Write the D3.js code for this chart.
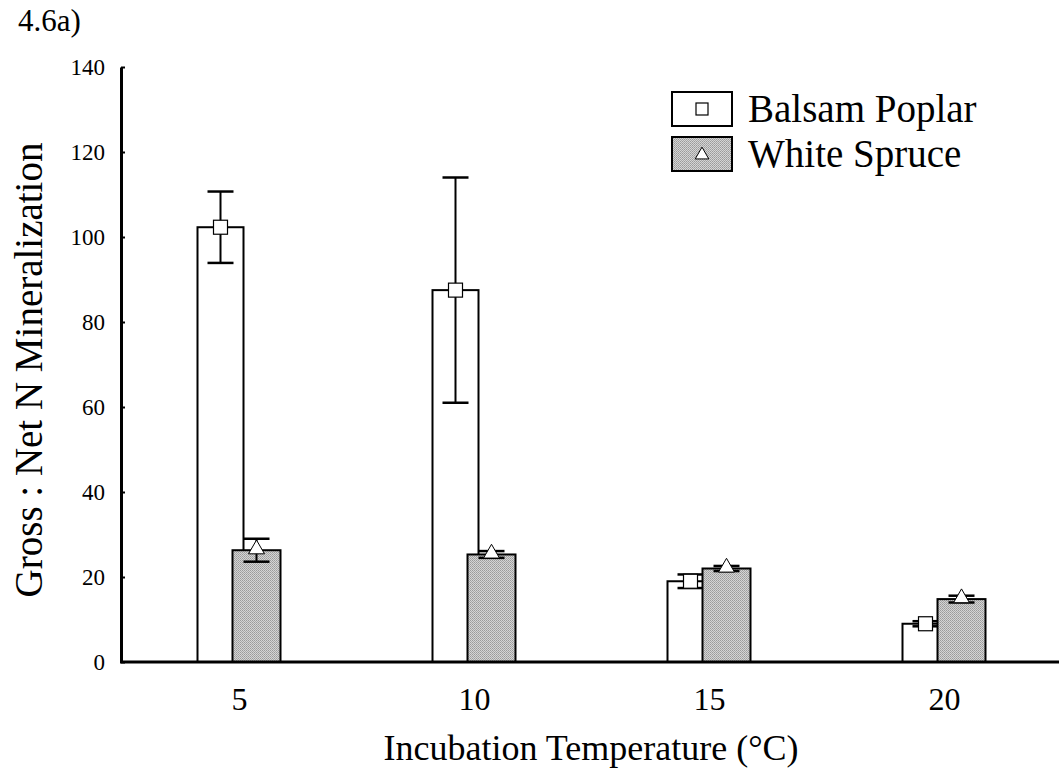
<!DOCTYPE html>
<html>
<head>
<meta charset="utf-8">
<script src="https://cdn.jsdelivr.net/npm/d3@7"></script>
<style>
  body { margin: 0; background: #fff; }
</style>
</head>
<body>
<div id="chart"></div>
<script>
// values
const temps = ['5', '10', '15', '20'];
const poplar = [102.3, 87.5, 19.0, 9.0];
const poplarErr = [8.4, 26.5, 1.6, 0.6];
const spruce = [26.3, 25.3, 22.0, 14.8];
const spruceErr = [2.7, 0.8, 0.6, 0.8];
const yTicks = [0, 20, 40, 60, 80, 100, 120, 140];
const seriesNames = ['Balsam Poplar', 'White Spruce'];

const width = 1059, height = 775;
const serif = '"Liberation Serif", "Times New Roman", Times, serif';

const svg = d3.select('#chart').append('svg')
    .attr('width', width)
    .attr('height', height)
    .attr('font-family', serif);

// stippled grey fill for the spruce bars
const defs = svg.append('defs');
const pat = defs.append('pattern')
    .attr('id', 'stipple')
    .attr('patternUnits', 'userSpaceOnUse')
    .attr('width', 2).attr('height', 2);
pat.append('rect').attr('width', 2).attr('height', 2).attr('fill', '#d4d4d4');
pat.append('rect').attr('width', 1).attr('height', 1).attr('fill', '#9a9a9a');
pat.append('rect').attr('x', 1).attr('y', 1).attr('width', 1).attr('height', 1).attr('fill', '#a8a8a8');

const y = d3.scaleLinear().domain([0, 140]).range([662, 67]);
const x = d3.scaleBand().domain(temps).range([122, 1062]).padding(0);

const pW = 46, sW = 48;
const pLeft = d => x(d) + x.bandwidth() / 2 - 42;
const sLeft = d => x(d) + x.bandwidth() / 2 - 7;

// poplar bars
svg.append('g').selectAll('rect')
    .data(temps)
    .join('rect')
    .attr('x', d => pLeft(d))
    .attr('y', (d, i) => y(poplar[i]))
    .attr('width', pW)
    .attr('height', (d, i) => y(0) - y(poplar[i]))
    .attr('fill', '#fff')
    .attr('stroke', '#000')
    .attr('stroke-width', 2);

// poplar error bars
const pErr = svg.append('g');
temps.forEach((d, i) => {
  const cx = pLeft(d) + pW / 2;
  const hi = y(poplar[i] + poplarErr[i]), lo = y(poplar[i] - poplarErr[i]);
  pErr.append('line').attr('x1', cx).attr('x2', cx).attr('y1', hi).attr('y2', lo)
      .attr('stroke', '#000').attr('stroke-width', 2);
  [hi, lo].forEach(v => pErr.append('line')
      .attr('x1', cx - 13).attr('x2', cx + 13).attr('y1', v).attr('y2', v)
      .attr('stroke', '#000').attr('stroke-width', 2.5));
});

// spruce bars (drawn over the poplar ones)
svg.append('g').selectAll('rect')
    .data(temps)
    .join('rect')
    .attr('x', d => sLeft(d))
    .attr('y', (d, i) => y(spruce[i]))
    .attr('width', sW)
    .attr('height', (d, i) => y(0) - y(spruce[i]))
    .attr('fill', 'url(#stipple)')
    .attr('stroke', '#000')
    .attr('stroke-width', 2);

const sErr = svg.append('g');
temps.forEach((d, i) => {
  const cx = sLeft(d) + sW / 2;
  const hi = y(spruce[i] + spruceErr[i]), lo = y(spruce[i] - spruceErr[i]);
  sErr.append('line').attr('x1', cx).attr('x2', cx).attr('y1', hi).attr('y2', lo)
      .attr('stroke', '#000').attr('stroke-width', 2);
  [hi, lo].forEach(v => sErr.append('line')
      .attr('x1', cx - 13).attr('x2', cx + 13).attr('y1', v).attr('y2', v)
      .attr('stroke', '#000').attr('stroke-width', 2.5));
});

// markers on top
svg.append('g').selectAll('rect')
    .data(temps)
    .join('rect')
    .attr('x', d => pLeft(d) + pW / 2 - 7)
    .attr('y', (d, i) => y(poplar[i]) - 7)
    .attr('width', 14).attr('height', 14)
    .attr('fill', '#fff').attr('stroke', '#000').attr('stroke-width', 1.2);

const tri = d3.symbol().type(d3.symbolTriangle).size(110);
svg.append('g').selectAll('path')
    .data(temps)
    .join('path')
    .attr('d', tri)
    .attr('transform', (d, i) => `translate(${sLeft(d) + sW / 2},${y(spruce[i]) - 1})`)
    .attr('fill', '#fff').attr('stroke', '#000').attr('stroke-width', 1);

// y axis
const yAxis = svg.append('g')
    .attr('transform', 'translate(121,0)')
    .call(d3.axisRight(y).tickValues(yTicks).tickSize(4).tickSizeOuter(0).tickFormat(''));
yAxis.select('.domain').attr('stroke-width', 3);
yAxis.selectAll('.tick line').attr('stroke-width', 2);

svg.append('g').selectAll('text')
    .data(yTicks)
    .join('text')
    .attr('x', 105)
    .attr('y', d => y(d))
    .attr('dy', '0.35em')
    .attr('text-anchor', 'end')
    .attr('font-size', 23)
    .text(d => d);

// x axis
svg.append('line')
    .attr('x1', 120).attr('x2', width)
    .attr('y1', y(0)).attr('y2', y(0))
    .attr('stroke', '#000').attr('stroke-width', 3);

svg.append('g').selectAll('text')
    .data(temps)
    .join('text')
    .attr('x', d => x(d) + x.bandwidth() / 2)
    .attr('y', 710)
    .attr('text-anchor', 'middle')
    .attr('font-size', 32)
    .text(d => d);

svg.append('text')
    .attr('x', 591).attr('y', 760)
    .attr('text-anchor', 'middle')
    .attr('font-size', 36)
    .text('Incubation Temperature (°C)');

svg.append('text')
    .attr('transform', 'translate(42,370) rotate(-90)')
    .attr('text-anchor', 'middle')
    .attr('font-size', 39)
    .text('Gross : Net N Mineralization');

svg.append('text')
    .attr('x', 18).attr('y', 31)
    .attr('font-size', 31)
    .text('4.6a)');

// legend
const legend = svg.append('g').attr('transform', 'translate(672,92)');
seriesNames.forEach((name, i) => {
  const g = legend.append('g').attr('transform', `translate(0,${i * 45})`);
  g.append('rect')
      .attr('width', 60).attr('height', 34)
      .attr('fill', i === 0 ? '#fff' : 'url(#stipple)')
      .attr('stroke', '#000').attr('stroke-width', 2);
  if (i === 0) {
    g.append('rect').attr('x', 24).attr('y', 11).attr('width', 12).attr('height', 12)
        .attr('fill', '#fff').attr('stroke', '#000').attr('stroke-width', 1.2);
  } else {
    g.append('path').attr('d', d3.symbol().type(d3.symbolTriangle).size(80))
        .attr('transform', 'translate(30,18)')
        .attr('fill', '#fff').attr('stroke', '#000').attr('stroke-width', 1);
  }
  g.append('text')
      .attr('x', 76).attr('y', 30)
      .attr('font-size', 39)
      .text(name);
});
</script>
</body>
</html>
